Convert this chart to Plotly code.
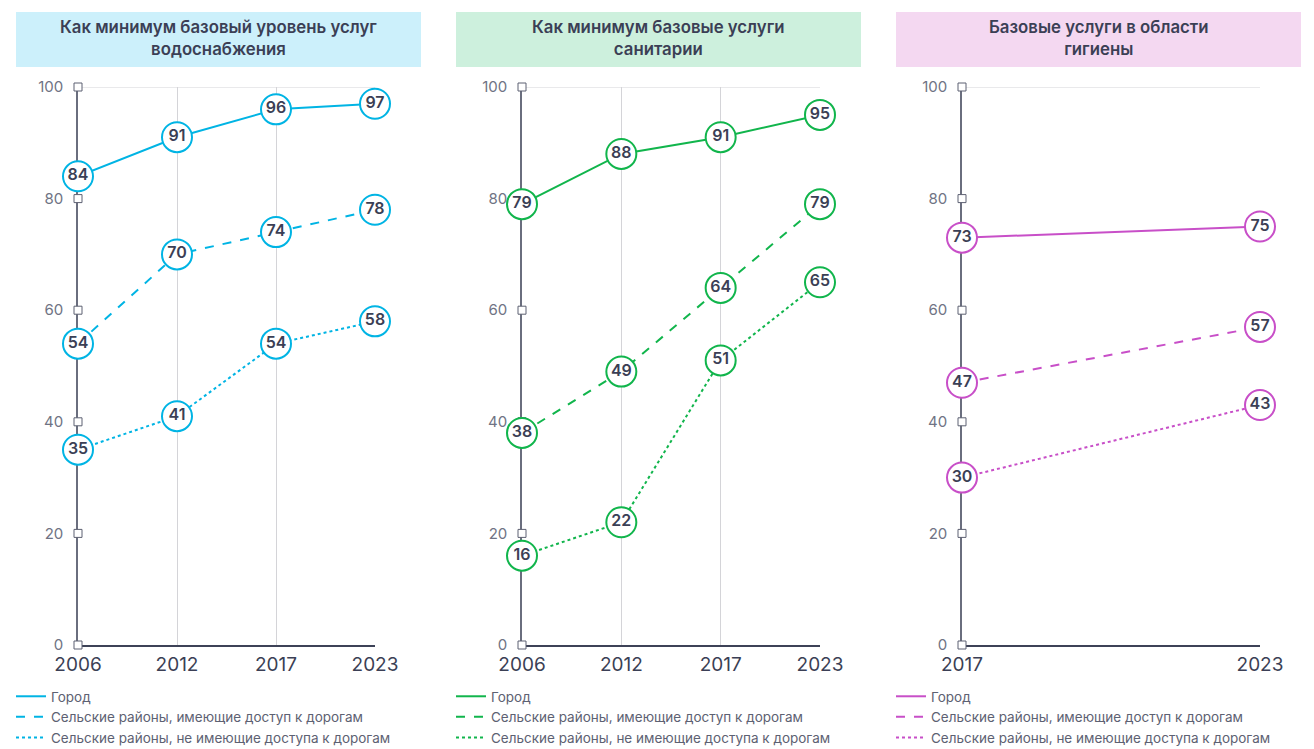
import plotly.graph_objects as go

W, H = 1314, 749

titles = ["Как минимум базовый уровень услуг<br>водоснабжения",
          "Как минимум базовые услуги<br>санитарии",
          "Базовые услуги в области<br>гигиены"]
years_water = ["2006", "2012", "2017", "2023"]
years_san = ["2006", "2012", "2017", "2023"]
years_hyg = ["2017", "2023"]

water_urban = [84, 91, 96, 97]
water_road = [54, 70, 74, 78]
water_noroad = [35, 41, 54, 58]

san_urban = [79, 88, 91, 95]
san_road = [38, 49, 64, 79]
san_noroad = [16, 22, 51, 65]

hyg_urban = [73, 75]
hyg_road = [47, 57]
hyg_noroad = [30, 43]

series_names = ["Город", "Сельские районы, имеющие доступ к дорогам",
                "Сельские районы, не имеющие доступа к дорогам"]
y_ticks = [0, 20, 40, 60, 80, 100]

colors = ["#00b4e4", "#11b54c", "#c84fc8"]
box_colors = ["#ccf0fb", "#cdf0dd", "#f4d8f1"]
dashes = ["solid", "dash", "dot"]

panels = [
    (years_water, [water_urban, water_road, water_noroad]),
    (years_san, [san_urban, san_road, san_noroad]),
    (years_hyg, [hyg_urban, hyg_road, hyg_noroad]),
]

x_px = [(78, 375), (522, 820), (962, 1260)]
box_px = [(16, 421), (456, 861), (896, 1301)]
y_dom = [(H - 645) / H, (H - 87) / H]

TXT = "#3b3f55"
FONT = "Inter"

fig = go.Figure()
layout = dict(width=W, height=H,
              margin=dict(l=0, r=0, t=0, b=0, autoexpand=False),
              plot_bgcolor="white", paper_bgcolor="white", showlegend=True,
              font=dict(family=FONT, color=TXT))
shapes = []
annotations = []

for i, (years, vals) in enumerate(panels):
    sfx = "" if i == 0 else str(i + 1)
    xa, ya = "x" + sfx, "y" + sfx
    leg = "legend" if i == 0 else "legend" + str(i + 1)
    # tick squares on y-axis
    fig.add_trace(go.Scatter(
        x=[years[0]] * len(y_ticks), y=y_ticks, xaxis=xa, yaxis=ya,
        mode="markers", cliponaxis=False, showlegend=False, hoverinfo="skip",
        marker=dict(symbol="square", size=8, color="white",
                    line=dict(color="#5d6172", width=1))))
    for j, v in enumerate(vals):
        fig.add_trace(go.Scatter(
            x=years, y=v, xaxis=xa, yaxis=ya, mode="lines+markers+text",
            text=[str(t) for t in v], textposition="middle center",
            textfont=dict(size=16, color=TXT, family=FONT, weight=600),
            cliponaxis=False, showlegend=False,
            line=dict(color=colors[i], width=2, dash=dashes[j]),
            marker=dict(size=30, color="white",
                        line=dict(color=colors[i], width=2))))
        fig.add_trace(go.Scatter(
            x=[None], y=[None], xaxis=xa, yaxis=ya, mode="lines",
            name=series_names[j], legend=leg,
            line=dict(color=colors[i], width=2, dash=dashes[j])))
    x0, x1 = x_px[i]
    layout["xaxis" + sfx] = dict(
        domain=[x0 / W, x1 / W], anchor=ya, type="category",
        range=[0, len(years) - 1], showgrid=True, gridcolor="#d4d4d8",
        gridwidth=1, showline=True, linecolor="#3d4257", linewidth=1.5,
        ticks="", tickfont=dict(size=19, color=TXT, family=FONT),
        ticklabelstandoff=1, zeroline=False, fixedrange=True,
        layer="below traces")
    layout["yaxis" + sfx] = dict(
        domain=y_dom, anchor=xa, range=[0, 100], tickvals=y_ticks,
        showgrid=False, showline=True, linecolor="#6a6e7e", linewidth=1.5,
        ticks="", tickfont=dict(size=15, color="#6f7384", family=FONT),
        ticklabelstandoff=10, zeroline=False, fixedrange=True,
        layer="below traces")
    # top frame line at 100
    shapes.append(dict(type="line", xref=xa + " domain", yref=ya,
                       x0=0, x1=1, y0=100, y1=100,
                       line=dict(color="#d4d4d8", width=1), layer="below"))
    # title box
    b0, b1 = box_px[i]
    shapes.append(dict(type="rect", xref="paper", yref="paper",
                       x0=b0 / W, x1=b1 / W, y0=1 - 67 / H, y1=1 - 12 / H,
                       fillcolor=box_colors[i], line=dict(width=0),
                       layer="below"))
    annotations.append(dict(
        text=titles[i], xref="paper", yref="paper",
        x=(b0 + b1) / 2 / W, y=1 - 37.5 / H, xanchor="center",
        yanchor="middle", showarrow=False, align="center",
        font=dict(size=16.8, color=TXT, family=FONT, weight=600)))
    layout[leg] = dict(
        x=(b0 - 5) / W, y=-4 / H, xanchor="left", yanchor="bottom",
        bgcolor="rgba(0,0,0,0)", font=dict(size=13.5, color="#5d6172",
                                           family=FONT),
        tracegroupgap=0, itemwidth=30, traceorder="normal")

layout["shapes"] = shapes
layout["annotations"] = annotations
fig.update_layout(**layout)
fig.write_html("out.html", config={"displayModeBar": False},
               post_script="document.body.style.margin='0';"
                           "document.body.style.overflow='hidden';")
